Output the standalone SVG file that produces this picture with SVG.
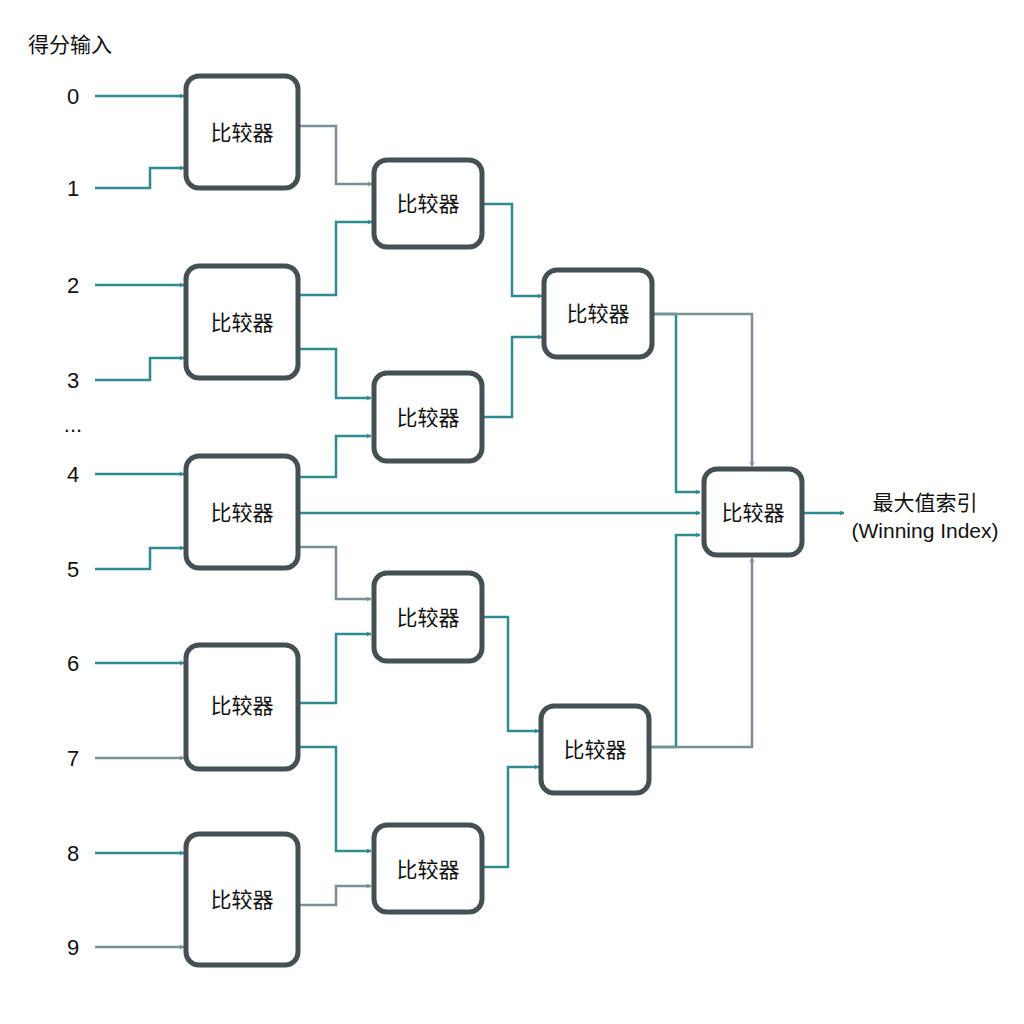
<svg xmlns="http://www.w3.org/2000/svg" width="1024" height="1024" viewBox="0 0 1024 1024">
<defs>
<marker id="at" viewBox="0 0 10 10" refX="9" refY="5" markerWidth="5" markerHeight="5" orient="auto" markerUnits="userSpaceOnUse"><path d="M0,0 L10,5 L0,10 L2,5 z" fill="#2e8b8f"/></marker>
<marker id="ag" viewBox="0 0 10 10" refX="9" refY="5" markerWidth="5" markerHeight="5" orient="auto" markerUnits="userSpaceOnUse"><path d="M0,0 L10,5 L0,10 L2,5 z" fill="#7a9094"/></marker>
<style>
.t{fill:none;stroke:#2e8b8f;stroke-width:2.5;marker-end:url(#at)}
.g{fill:none;stroke:#7a9094;stroke-width:2.5;marker-end:url(#ag)}
.b{fill:#fff;stroke:#455055;stroke-width:5}
text{font-family:"Liberation Sans","Noto Sans CJK SC",sans-serif;fill:#111}
.l{font-size:21px;text-anchor:middle}
.n{font-size:22px;text-anchor:middle}
</style>
</defs>
<rect width="1024" height="1024" fill="#fff"/>
<style>marker{overflow:visible}</style>
<g id="connectors">
<path class="t" d="M95,96H184" style="marker-end:url(#at)"/>
<path class="t" d="M95,188H150V168H184"/>
<path class="t" d="M95,285H184"/>
<path class="t" d="M95,380H150V358H184"/>
<path class="t" d="M95,474H184"/>
<path class="t" d="M95,569H150V548H184"/>
<path class="t" d="M95,663H184"/>
<path class="g" d="M95,758H184"/>
<path class="t" d="M95,853H184"/>
<path class="g" d="M95,947H184"/>
<path class="g" d="M298,126H336V184H372"/>
<path class="t" d="M298,295H336V222H372"/>
<path class="t" d="M298,349H336V398H371"/>
<path class="t" d="M298,477H336V436H371"/>
<path class="t" d="M298,513H700"/>
<path class="g" d="M298,547H336V599H371"/>
<path class="t" d="M298,703H336V634H371"/>
<path class="t" d="M298,747H336V851H371"/>
<path class="g" d="M298,905H336V886H371"/>
<path class="t" d="M482,204H512V296H542"/>
<path class="t" d="M482,417H512V337H542"/>
<path class="t" d="M482,617H508V731H539"/>
<path class="t" d="M482,867H508V767H539"/>
<path class="t" d="M652,314H676V492H700"/>
<path class="g" d="M652,314H752V466"/>
<path class="t" d="M649,747H676V535H700"/>
<path class="g" d="M649,747H752V558"/>
<path class="t" d="M802,513H844"/>
</g>
<g id="n1"><rect class="b" x="186" y="76" width="112" height="112" rx="13"/><text class="l" x="242" y="140">比较器</text></g>
<g id="n2"><rect class="b" x="186" y="266" width="112" height="112" rx="13"/><text class="l" x="242" y="330">比较器</text></g>
<g id="n3"><rect class="b" x="186" y="456" width="112" height="112" rx="13"/><text class="l" x="242" y="520">比较器</text></g>
<g id="n4"><rect class="b" x="186" y="645" width="112" height="124" rx="13"/><text class="l" x="242" y="713">比较器</text></g>
<g id="n5"><rect class="b" x="186" y="834" width="112" height="131" rx="13"/><text class="l" x="242" y="907">比较器</text></g>
<g id="m1"><rect class="b" x="374" y="160" width="108" height="87" rx="13"/><text class="l" x="428" y="211">比较器</text></g>
<g id="m2"><rect class="b" x="374" y="373" width="108" height="88" rx="13"/><text class="l" x="428" y="425">比较器</text></g>
<g id="m3"><rect class="b" x="374" y="573" width="108" height="88" rx="13"/><text class="l" x="428" y="625">比较器</text></g>
<g id="m4"><rect class="b" x="374" y="825" width="108" height="87" rx="13"/><text class="l" x="428" y="877">比较器</text></g>
<g id="s1"><rect class="b" x="544" y="270" width="108" height="87" rx="13"/><text class="l" x="598" y="321">比较器</text></g>
<g id="s2"><rect class="b" x="541" y="706" width="108" height="87" rx="13"/><text class="l" x="595" y="757">比较器</text></g>
<g id="f"><rect class="b" x="704" y="469" width="98" height="86" rx="13"/><text class="l" x="753" y="520">比较器</text></g>
<g id="labels">
<text x="28" y="52" font-size="21">得分输入</text>
<text class="n" x="73" y="104">0</text>
<text class="n" x="73" y="196">1</text>
<text class="n" x="73" y="293">2</text>
<text class="n" x="73" y="388">3</text>
<text class="n" x="73" y="432">...</text>
<text class="n" x="73" y="482">4</text>
<text class="n" x="73" y="577">5</text>
<text class="n" x="73" y="671">6</text>
<text class="n" x="73" y="766">7</text>
<text class="n" x="73" y="861">8</text>
<text class="n" x="73" y="955">9</text>
<text class="l" x="925" y="510">最大值索引</text>
<text class="l" x="925" y="538">(Winning Index)</text>
</g>
</svg>
